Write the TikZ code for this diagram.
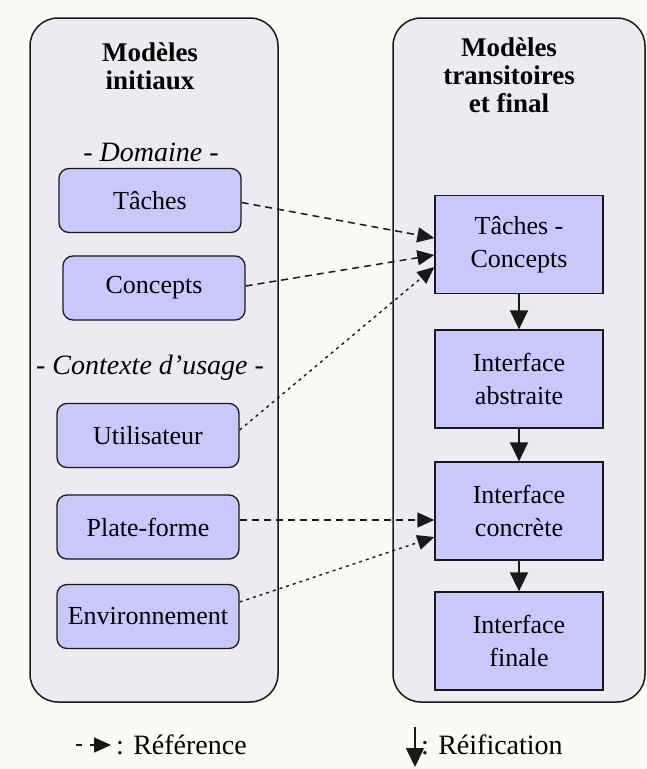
\documentclass[tikz,border=0pt]{standalone}
\usepackage{fontspec}
\setmainfont{Liberation Serif}
\usetikzlibrary{arrows.meta}
\definecolor{bgc}{RGB}{252,250,244}
\definecolor{contc}{RGB}{237,235,241}
\definecolor{boxc}{RGB}{200,200,250}
\definecolor{linec}{RGB}{25,25,25}
\begin{document}
\begin{tikzpicture}[x=1pt,y=-1pt,
  container/.style={draw=linec, line width=1.5pt, fill=contc, rounded corners=28pt, inner sep=0pt},
  leftbox/.style={draw=linec, line width=1.3pt, fill=boxc, rounded corners=10pt, minimum width=182pt, minimum height=64pt, inner sep=0pt, font=\fontsize{26}{30}\selectfont},
  rightbox/.style={draw=linec, line width=1.3pt, fill=boxc, minimum width=168pt, minimum height=98pt, inner sep=0pt, align=center, font=\fontsize{26}{33}\selectfont},
  titletext/.style={align=center, inner sep=0pt, font=\fontsize{27}{28}\selectfont\bfseries},
  grouplabel/.style={inner sep=0pt, font=\fontsize{28}{30}\selectfont\itshape},
  legendtext/.style={anchor=west, inner sep=0pt, font=\fontsize{28}{32}\selectfont},
  ref/.style={draw=linec, line width=1.5pt, dash pattern=on 7pt off 5pt, -{Triangle[length=17pt,width=15pt]}},
  refdot/.style={draw=linec, line width=1.4pt, dash pattern=on 3pt off 4pt, -{Triangle[length=17pt,width=15pt]}},
  reif/.style={draw=linec, line width=1.6pt, -{Triangle[length=19pt,width=18pt]}},
]
\fill[bgc] (0,0) rectangle (647,769);
\useasboundingbox (0,0) rectangle (647,769);

% containers
\node[container, minimum width=248pt, minimum height=684pt] (left) at (154,360) {};
\node[container, minimum width=252pt, minimum height=684pt] (right) at (519,360) {};

% titles
\node[titletext] (tl) at (150,66) {Modèles\\initiaux};
\node[titletext] (tr) at (509,75) {Modèles\\transitoires\\et final};

% group labels
\node[grouplabel] (dom) at (151,152) {- Domaine -};
\node[grouplabel] (ctx) at (150,368) {- Contexte d'usage -};

% left boxes
\node[leftbox] (taches) at (150,200.5) {Tâches};
\node[leftbox] (concepts) at (154,288) {Concepts};
\node[leftbox] (util) at (148,435.5) {Utilisateur};
\node[leftbox] (plat) at (148,527) {Plate-forme};
\node[leftbox] (env) at (148,616.5) {Environnement};

% right boxes
\node[rightbox] (tc) at (519,244.5) {Tâches -\\Concepts};
\node[rightbox] (ia) at (519,379) {Interface\\abstraite};
\node[rightbox] (ic) at (519,511) {Interface\\concrète};
\node[rightbox] (ifin) at (519,641) {Interface\\finale};

% reification arrows
\draw[reif] (tc.south) -- (ia.north);
\draw[reif] (ia.south) -- (ic.north);
\draw[reif] (ic.south) -- (ifin.north);

% reference arrows
\draw[ref] ([yshift=-2pt]taches.east) -- ([yshift=6.5pt]tc.west);
\draw[ref] ([yshift=2pt]concepts.east) -- ([yshift=-10.5pt]tc.west);
\draw[refdot] ([yshift=5.5pt]util.east) -- ([yshift=-22.5pt]tc.west);
\draw[ref] ([yshift=7pt]plat.east) -- ([yshift=-9pt]ic.west);
\draw[refdot] ([yshift=14.5pt]env.east) -- ([yshift=-26pt]ic.west);

% legend
\coordinate (ra) at (76,745);
\coordinate (rb) at (111,745);
\draw[ref, dash pattern=on 6pt off 8pt] (ra) -- (rb);
\node[legendtext] (reftxt) at (116,745) {: Référence};
\coordinate (rc) at (415,727);
\coordinate (rd) at (415,767);
\draw[reif] (rc) -- (rd);
\node[legendtext] (reiftxt) at (421,745) {: Réification};
\end{tikzpicture}
\end{document}
